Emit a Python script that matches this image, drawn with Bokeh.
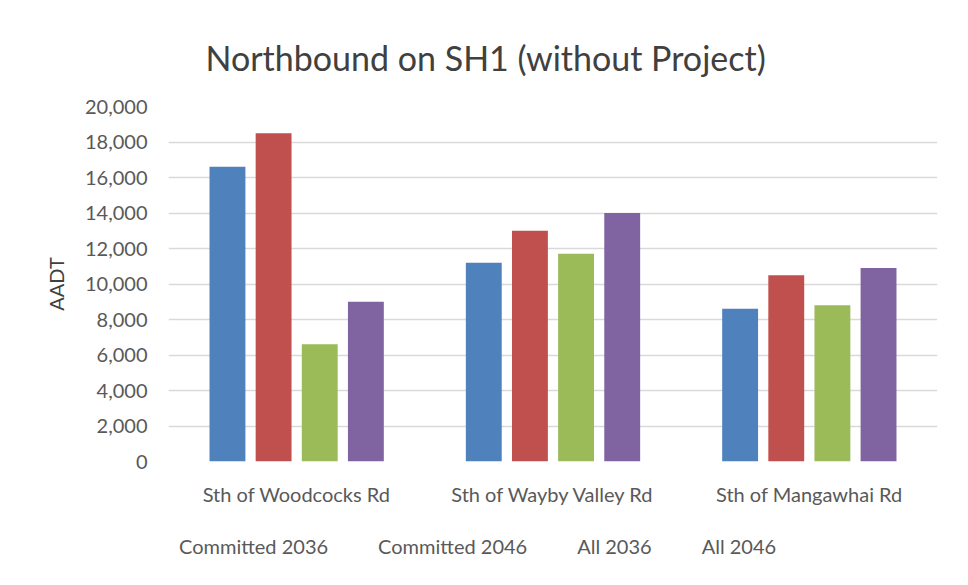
from bokeh.plotting import figure
from bokeh.layouts import column
from bokeh.models import (ColumnDataSource, FactorRange, Legend, LegendItem, NumeralTickFormatter,
                          FixedTicker, Range1d, CDSView, IndexFilter)
from bokeh.transform import dodge
from bokeh.embed import file_html
from bokeh.resources import INLINE

locations = ["Sth of Woodcocks Rd", "Sth of Wayby Valley Rd", "Sth of Mangawhai Rd"]
series_names = ["Committed 2036", "Committed 2046", "All 2036", "All 2046"]
committed_2036 = [16600, 11200, 8600]
committed_2046 = [18500, 13000, 10500]
all_2036 = [6600, 11700, 8800]
all_2046 = [9000, 14000, 10900]
y_ticks = [0, 2000, 4000, 6000, 8000, 10000, 12000, 14000, 16000, 18000, 20000]
colors = ["#4F81BD", "#C0504D", "#9BBB59", "#8064A2"]

FONT = "Lato"
src = ColumnDataSource(dict(loc=locations, c36=committed_2036, c46=committed_2046,
                            a36=all_2036, a46=all_2046))

p = figure(x_range=FactorRange(*locations), y_range=Range1d(0, 20000),
           frame_width=769, frame_height=355, output_backend="svg", toolbar_location=None,
           min_border_left=168, min_border_right=15, min_border_top=106, min_border_bottom=60)

offsets = [-0.27, -0.09, 0.09, 0.27]
cols = ["c36", "c46", "a36", "a46"]
for col, off, color in zip(cols, offsets, colors):
    p.vbar(x=dodge("loc", off, range=p.x_range), top=col, width=0.14, source=src,
           fill_color=color, line_color=None)

p.title.text = "Northbound on SH1 (without Project)"
p.title.align = "left"
p.title.offset = 37
p.title.text_font = FONT
p.title.text_font_size = "34px"
p.title.text_font_style = "normal"
p.title.text_color = "#404040"
p.title.standoff = 57

p.yaxis.ticker = FixedTicker(ticks=y_ticks)
p.yaxis.formatter = NumeralTickFormatter(format="0,0")
p.yaxis.axis_label = "AADT"
p.yaxis.axis_label_text_font = FONT
p.yaxis.axis_label_text_font_size = "20px"
p.yaxis.axis_label_text_font_style = "normal"
p.yaxis.axis_label_text_color = "#404040"
p.yaxis.axis_label_standoff = 14
for ax in (p.xaxis[0], p.yaxis[0]):
    ax.axis_line_color = None
    ax.major_tick_line_color = None
    ax.minor_tick_line_color = None
    ax.major_label_text_font = FONT
    ax.major_label_text_font_size = "20px"
    ax.major_label_text_color = "#595959"
p.yaxis.major_label_standoff = 15
p.xaxis.major_label_standoff = 14

p.xgrid.grid_line_color = None
p.ygrid.grid_line_color = "#D9D9D9"
p.ygrid.grid_line_width = 1.5
p.outline_line_color = None

# legend strip below the chart (its renderers draw no bars, only legend swatches)
p2 = figure(x_range=p.x_range, y_range=Range1d(-2, -1), width=952, height=48,
            output_backend="svg", toolbar_location=None,
            x_axis_location=None, y_axis_location=None, min_border=0)
p2.outline_line_color = None
p2.xgrid.grid_line_color = None
p2.ygrid.grid_line_color = None
leg_renderers = []
for col, off, color in zip(cols, offsets, colors):
    r = p2.vbar(x=dodge("loc", off, range=p.x_range), top=col, width=0.14, source=src,
                view=CDSView(filter=IndexFilter(indices=[])),
                fill_color=color, line_color=None)
    leg_renderers.append(r)

legend = Legend(items=[LegendItem(label=n, renderers=[r]) for n, r in zip(series_names, leg_renderers)],
                orientation="horizontal", location=(-5, 11), margin=0, padding=0,
                label_text_font=FONT, label_text_font_size="20px", label_text_color="#595959",
                glyph_width=10, glyph_height=10, spacing=34, label_standoff=6,
                border_line_color=None, background_fill_alpha=0)
p2.add_layout(legend, "center")

layout = column(p, p2, spacing=0)
open("out.html", "w").write(file_html(layout, INLINE))
